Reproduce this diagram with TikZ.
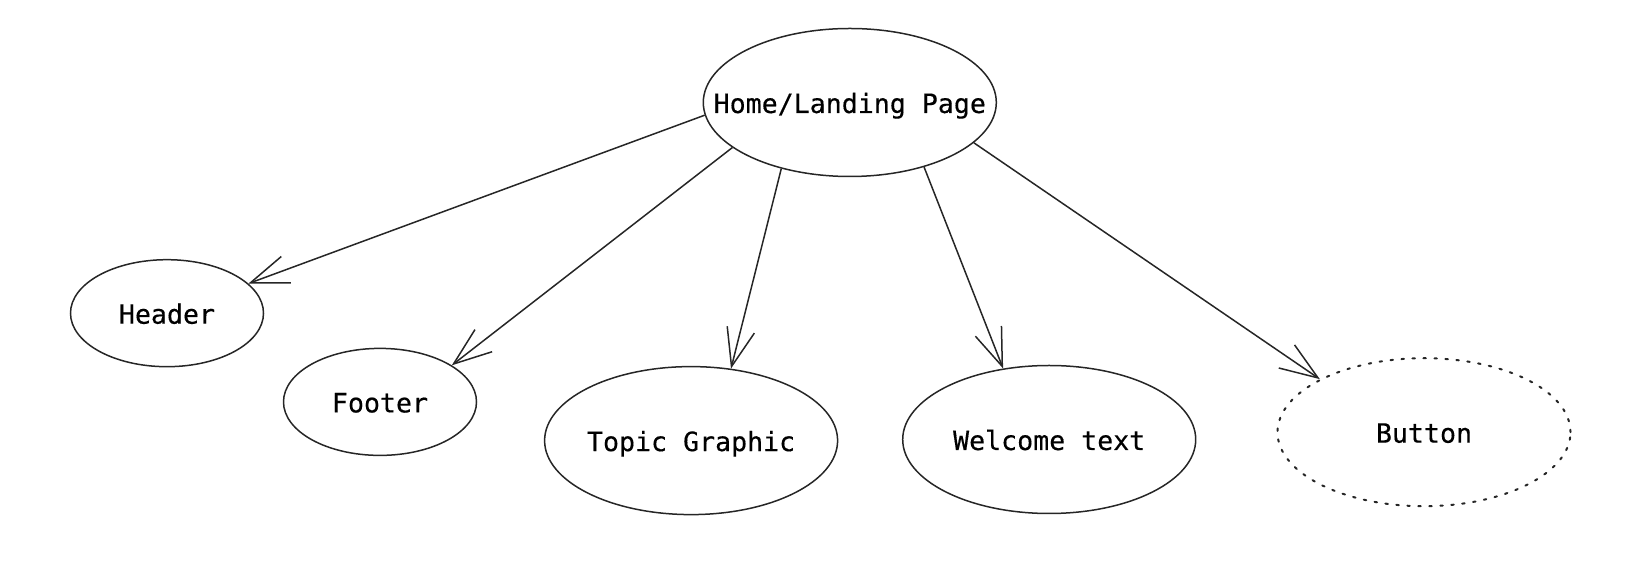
\documentclass[tikz,border=0pt]{standalone}
\usepackage{fontspec}
\newfontfamily\lblfont[FakeBold=0.35]{DejaVu Sans Mono}
\usetikzlibrary{shapes.geometric,arrows.meta}
\tikzset{
  page/.style={ellipse,draw=black!85,line width=1.5pt,inner sep=0pt,
    font=\lblfont\fontsize{26.6}{30}\selectfont},
  bignode/.style={page,minimum width=293pt,minimum height=148pt},
  smallnode/.style={page,minimum width=193pt,minimum height=107pt},
  dotted node/.style={page,line cap=round,line width=2pt,dash pattern=on 2.5pt off 8.5pt},
  link/.style={draw=black!85,line width=1.5pt,-{Straight Barb[length=38pt,width=28pt,line width=1.5pt]}}
}
\newcommand{\zt}[1]{\makebox[0pt][c]{\raisebox{-10.5pt}[0pt][0pt]{#1}}}
\begin{document}
\begin{tikzpicture}[x=1pt,y=1pt]
\useasboundingbox (0,0) rectangle (1637,572);
\node[bignode] (home) at (849.8,469.5) {\zt{Home/Landing Page}};
\node[smallnode] (header) at (167,258.8) {\zt{Header}};
\node[smallnode] (footer) at (380,170.1) {\zt{Footer}};
\node[bignode] (topic) at (691.1,131.4) {\zt{Topic Graphic}};
\node[bignode] (welcome) at (1049.2,132.5) {\zt{Welcome text}};
\node[bignode,dotted node] (button) at (1424,139.8) {\zt{Button}};
\draw[link] (home.185) -- (header.20.4);
\draw[link] (home.201.4) -- (footer.27.9);
\draw[link] (home.224) -- (topic.61.5);
\draw[link] (home.319.3) -- (welcome.123.3);
\draw[link] (home.342.8) -- (button.153.9);
\end{tikzpicture}
\end{document}
